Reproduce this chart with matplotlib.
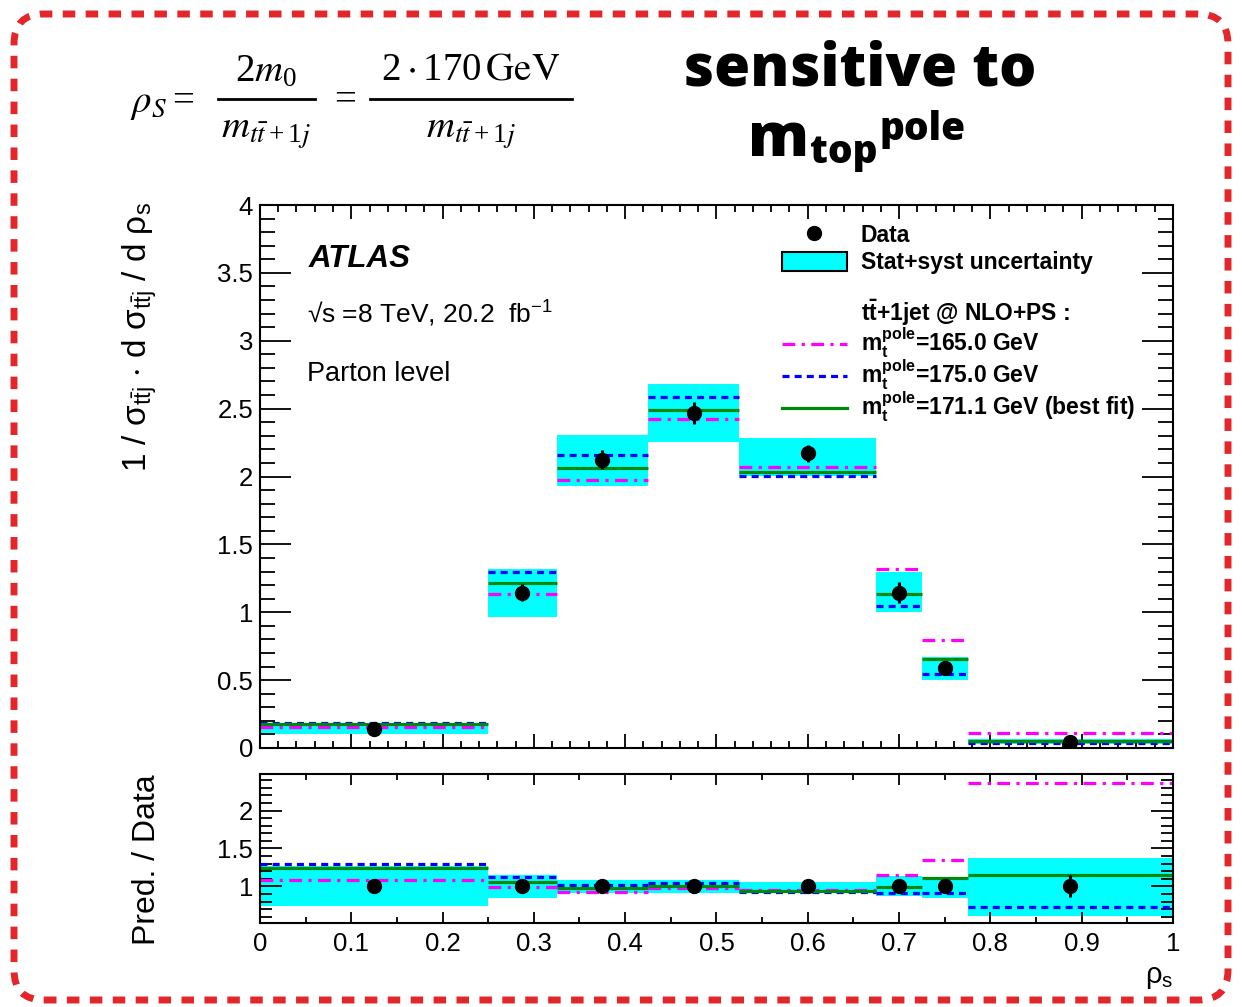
import numpy as np
import matplotlib
matplotlib.use('Agg')
import matplotlib.pyplot as plt
from matplotlib.lines import Line2D
from matplotlib.patches import Patch, FancyBboxPatch
from matplotlib.ticker import MultipleLocator

plt.rcParams['font.family'] = ['Liberation Sans', 'DejaVu Sans']
plt.rcParams['mathtext.fontset'] = 'custom'
plt.rcParams['mathtext.rm'] = 'Liberation Sans'
plt.rcParams['mathtext.it'] = 'Liberation Sans:italic'
plt.rcParams['mathtext.bf'] = 'Liberation Sans:bold'
plt.rcParams['mathtext.default'] = 'regular'

# rho_s binning and unfolded parton-level data
edges = [0.0, 0.25, 0.325, 0.425, 0.525, 0.675, 0.725, 0.775, 1.0]
data = [0.14, 1.145, 2.125, 2.47, 2.17, 1.145, 0.592, 0.047]
data_err = [0.006, 0.06, 0.07, 0.08, 0.06, 0.075, 0.02, 0.0068]

# stat+syst band relative to data
unc_lo = [0.74, 0.845, 0.91, 0.913, 0.925, 0.877, 0.847, 0.615]
unc_hi = [1.27, 1.154, 1.085, 1.085, 1.052, 1.135, 1.13, 1.38]

# tt+1jet NLO+PS predictions divided by data
ratio_165 = [1.088, 0.99, 0.93, 0.98, 0.953, 1.154, 1.35, 2.36]
ratio_175 = [1.295, 1.13, 1.017, 1.048, 0.923, 0.915, 0.915, 0.73]
ratio_171 = [1.237, 1.06, 0.972, 1.008, 0.937, 0.99, 1.11, 1.154]

pred_labels = [r'$\mathbf{m_{t}^{pole}}$=165.0 GeV',
               r'$\mathbf{m_{t}^{pole}}$=175.0 GeV',
               r'$\mathbf{m_{t}^{pole}}$=171.1 GeV (best fit)']

edges = np.array(edges)
lo_e, hi_e = edges[:-1], edges[1:]
centers = 0.5 * (lo_e + hi_e)
widths = hi_e - lo_e
data = np.array(data)
data_err = np.array(data_err)
unc_lo = np.array(unc_lo)
unc_hi = np.array(unc_hi)

styles = [
    dict(color='#ff00ff', ls=(0, (4, 2, 1, 2))),
    dict(color='#0000ff', ls=(0, (2.2, 1.6))),
    dict(color='#00880a', ls='-'),
]
ratios = [np.array(ratio_165), np.array(ratio_175), np.array(ratio_171)]

W, H = 1242, 1007
fig = plt.figure(figsize=(W / 100, H / 100), dpi=100)
ax = fig.add_axes([0.2093, 0.2572, 0.7351, 0.5392])
rax = fig.add_axes([0.2093, 0.0837, 0.7351, 0.1474])


def fx(px):
    return px / W


def fy(py):
    return 1 - py / H


# main panel
ax.bar(lo_e, data * (unc_hi - unc_lo), bottom=data * unc_lo, width=widths,
       align='edge', color='#00ffff', linewidth=0, zorder=1)
for r, st in zip(ratios, styles):
    ax.hlines(data * r, lo_e, hi_e, colors=st['color'], linestyles=[st['ls']],
              linewidth=2.3, zorder=2)
ax.errorbar(centers, data, yerr=data_err, fmt='o', color='black', ms=10,
            elinewidth=2.2, capsize=0, zorder=4)

ax.set_xlim(0, 1)
ax.set_ylim(0, 4)
ax.xaxis.set_major_locator(MultipleLocator(0.1))
ax.xaxis.set_minor_locator(MultipleLocator(0.02))
ax.yaxis.set_minor_locator(MultipleLocator(0.1))
ax.set_yticks([0, 0.5, 1, 1.5, 2, 2.5, 3, 3.5, 4])
ax.set_yticklabels(['0', '0.5', '1', '1.5', '2', '2.5', '3', '3.5', '4'])
ax.tick_params(which='both', direction='in', top=True, right=True, width=1.3,
               labelsize=18.5, labelbottom=False)
ax.tick_params(axis='x', which='major', length=10)
ax.tick_params(axis='x', which='minor', length=5)
ax.tick_params(axis='y', which='major', length=22, pad=5)
ax.tick_params(axis='y', which='minor', length=11)
for s in ax.spines.values():
    s.set_linewidth(1.5)

ax.text(0.053, 0.9, 'ATLAS', transform=ax.transAxes, fontsize=22.5,
        fontweight='bold', fontstyle='italic', va='center')
ax.text(0.052, 0.80, '\u221as =8 TeV, 20.2  fb$^{-1}$', transform=ax.transAxes,
        fontsize=19, va='center')
ax.text(0.051, 0.688, 'Parton level', transform=ax.transAxes, fontsize=19.5,
        va='center')

leg_font = dict(size=16.5, weight='bold')
leg1 = ax.legend(
    [Line2D([], [], marker='o', color='black', ls='none', ms=10),
     Patch(facecolor='#00ffff', edgecolor='black', linewidth=1.5)],
    ['Data', 'Stat+syst uncertainty'],
    loc='upper left', bbox_to_anchor=(0.5615, 0.982), borderaxespad=0,
    frameon=False, handlelength=2.85, handleheight=0.9, handletextpad=0.6,
    labelspacing=0.18, prop=leg_font)
ax.add_artist(leg1)

handles = [Line2D([], [], ls='none')]
labels = [r'$\mathbf{t\bar{t}}$+1jet @ NLO+PS :']
for lab, st in zip(pred_labels, styles):
    handles.append(Line2D([], [], color=st['color'], ls=st['ls'], lw=2.3))
    labels.append(lab)
ax.legend(handles, labels, loc='upper left', bbox_to_anchor=(0.5615, 0.845),
          borderaxespad=0, frameon=False, handlelength=2.85,
          handletextpad=0.6, labelspacing=-0.1, prop=leg_font)

ax.text(-0.132, 1.005, r'1 / $σ_{t\bar{t}j}$ $\cdot$ d $σ_{t\bar{t}j}$ / d $ρ_{s}$',
        transform=ax.transAxes, rotation=90, fontsize=24, ha='center', va='top')

# ratio panel
rax.bar(lo_e, unc_hi - unc_lo, bottom=unc_lo, width=widths, align='edge',
        color='#00ffff', linewidth=0, zorder=1)
for r, st in zip(ratios, styles):
    rax.hlines(r, lo_e, hi_e, colors=st['color'], linestyles=[st['ls']],
               linewidth=2.3, zorder=2)
rax.errorbar(centers, np.ones_like(data), yerr=data_err / data, fmt='o',
             color='black', ms=10, elinewidth=2.2, capsize=0, zorder=4)

rax.set_xlim(0, 1)
rax.set_ylim(0.52, 2.48)
rax.set_yticks([1, 1.5, 2])
rax.set_yticklabels(['1', '1.5', '2'])
rax.yaxis.set_minor_locator(MultipleLocator(0.1))
rax.set_xticks(np.arange(0, 1.01, 0.1))
rax.set_xticklabels(['0', '0.1', '0.2', '0.3', '0.4', '0.5', '0.6', '0.7',
                     '0.8', '0.9', '1'])
rax.xaxis.set_minor_locator(MultipleLocator(0.05))
rax.tick_params(which='both', direction='in', top=True, right=True, width=1.3,
                labelsize=18.5)
rax.tick_params(axis='x', which='major', length=8, pad=7)
rax.tick_params(axis='x', which='minor', length=4)
rax.tick_params(axis='y', which='major', length=16, pad=5)
rax.tick_params(axis='y', which='minor', length=8.5)
for s in rax.spines.values():
    s.set_linewidth(1.5)
rax.text(-0.124, 1.0, 'Pred. / Data', transform=rax.transAxes, rotation=90,
         fontsize=23, ha='center', va='top')
rax.text(1.0, -0.27, r'$ρ_{s}$', transform=rax.transAxes, fontsize=21,
         ha='right', va='top')

# observable definition written out as a fraction
ftxt = dict(fontsize=28, family='Liberation Serif', math_fontfamily='stix',
            va='center')
den = r'$\mathit{m}_{\mathit{t\bar{t}}+1\mathit{j}}$'
fig.text(fx(130), fy(104), r'$\mathit{\rho_S} =$', ha='left', **ftxt)
fig.text(fx(266), fy(72), r'$2\mathit{m}_0$', ha='center', **ftxt)
fig.text(fx(266), fy(134), den, ha='center', **ftxt)
fig.text(fx(343), fy(100), r'$=$', ha='center', **ftxt)
fig.text(fx(471), fy(70), r'$2\cdot 170\,\mathrm{GeV}$', ha='center', **ftxt)
fig.text(fx(471), fy(134), den, ha='center', **ftxt)
for x0, x1 in [(218, 315), (370, 572)]:
    fig.add_artist(Line2D([fx(x0), fx(x1)], [fy(99), fy(99)], color='black',
                          lw=2, transform=fig.transFigure))

head = dict(family='Open Sans', fontweight='heavy', va='center')
fig.text(fx(860), fy(70), 'sensitive to', fontsize=42, ha='center', **head)
fig.text(fx(748), fy(140), 'm', fontsize=44, ha='left', **head)
fig.text(fx(810), fy(152), 'top', fontsize=28, ha='left', **head)
fig.text(fx(880), fy(130), 'pole', fontsize=28, ha='left', **head)

# dashed rounded frame around the slide
frame = FancyBboxPatch((0.14, 0.07), 12.14, 9.86,
                       boxstyle='round,pad=0,rounding_size=0.3',
                       transform=fig.dpi_scale_trans, facecolor='none',
                       edgecolor='#e3262a', linewidth=5, linestyle=(0, (1.8, 1.5)))
fig.add_artist(frame)

fig.savefig('out.png', dpi=100)
